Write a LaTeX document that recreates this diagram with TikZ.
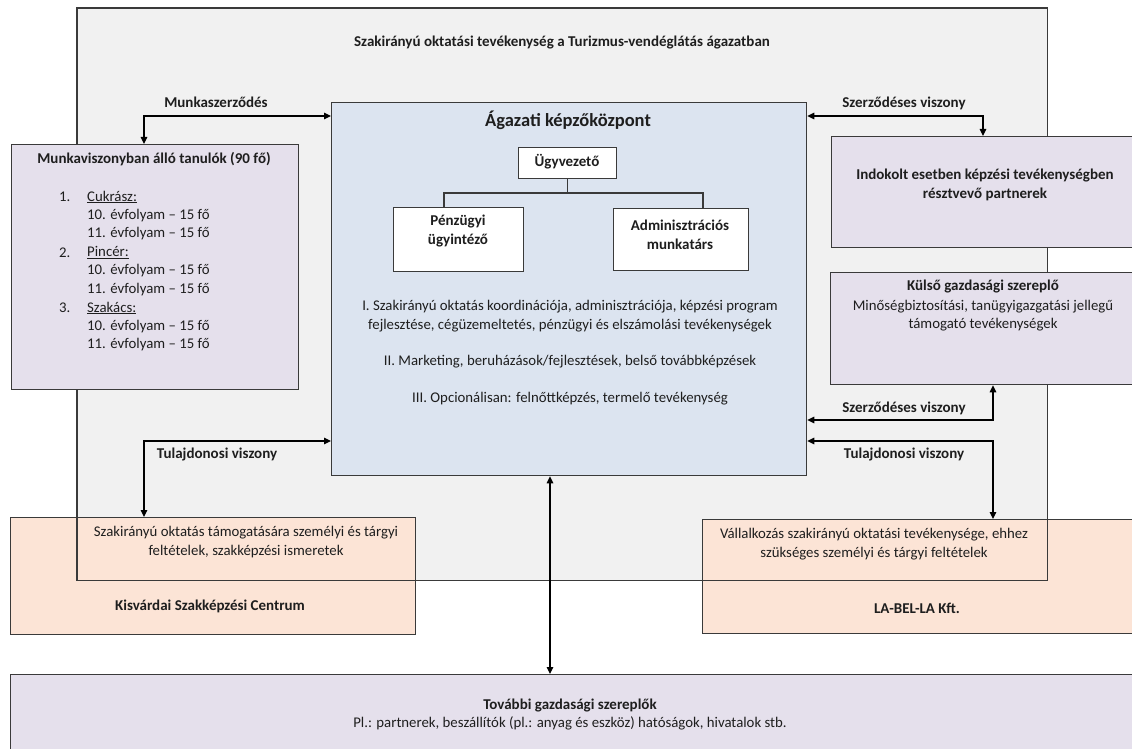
\documentclass[tikz,border=0pt]{standalone}
\usepackage{fontspec}
\setmainfont{Carlito}
\usetikzlibrary{arrows.meta}
\definecolor{grayfill}{HTML}{F1F1F1}
\definecolor{bluefill}{HTML}{DCE4F0}
\definecolor{purplefill}{HTML}{E5E0EC}
\definecolor{orangefill}{HTML}{FCE4D6}
\definecolor{edgecol}{HTML}{3A3A3A}
\definecolor{txtcol}{HTML}{1E1E1E}
\tikzset{
  box/.style={rectangle, draw=edgecol, line width=1.3pt, inner sep=0pt, anchor=north west},
  innerbox/.style={rectangle, draw=edgecol, line width=1.1pt, fill=white, inner sep=0pt, anchor=north west},
  txt/.style={font=\fontsize{14.8}{18.5}\selectfont, text=txtcol, align=center, inner sep=0pt},
  txtb/.style={txt, font=\fontsize{15}{18.5}\selectfont\bfseries},
  listtxt/.style={font=\fontsize{14.8}{18.5}\selectfont, text=txtcol, inner sep=0pt, anchor=west},
  conn/.style={draw=black, line width=1.2pt, arrows={Triangle[length=7pt,width=6.5pt]-Triangle[length=7pt,width=6.5pt]}},
  orgline/.style={draw=edgecol, line width=1.1pt},
}
\begin{document}
\begin{tikzpicture}[x=1pt,y=-1pt]
\clip (0,0) rectangle (1132,749);
\fill[white] (0,0) rectangle (1132,749);
% outer gray container (fill)
\node[rectangle, fill=grayfill, inner sep=0pt, anchor=north west, minimum width=970pt, minimum height=572pt] (outer) at (77,8) {};
% orange boxes
\node[box, fill=orangefill, minimum width=405pt, minimum height=117pt] (oL) at (10,517) {};
\node[box, fill=orangefill, minimum width=434pt, minimum height=114pt] (oR) at (702,519) {};
% outer gray border on top of orange
\draw[edgecol, line width=1.3pt] (outer.north west) rectangle (outer.south east);
% purple boxes
\node[box, fill=purplefill, minimum width=287pt, minimum height=245pt] (lp) at (11,144) {};
\node[box, fill=purplefill, minimum width=305pt, minimum height=111pt] (rp1) at (831,136) {};
\node[box, fill=purplefill, minimum width=306pt, minimum height=112pt] (rp2) at (830,272) {};
\node[box, fill=purplefill, minimum width=1126pt, minimum height=80pt] (bp) at (10,674) {};
% center box
\node[box, fill=bluefill, minimum width=475pt, minimum height=373pt] (cb) at (331,102) {};
% inner org boxes
\node[innerbox, minimum width=98pt, minimum height=31pt] (ug) at (518,147) {};
\node[innerbox, minimum width=130pt, minimum height=64pt] (pu) at (393,207) {};
\node[innerbox, minimum width=135pt, minimum height=62pt] (ad) at (613,208) {};
\coordinate (oj1) at (444,193);
\coordinate (oj2) at (703,193);
\draw[orgline] (ug.south) -- (ug.south |- oj1);
\draw[orgline] (oj1 |- pu.north) -- (oj1) -- (oj2) -- (oj2 |- ad.north);

% texts
\node[txtb] (title) at (562,43) {Szakirányú oktatási tevékenység a Turizmus-vendéglátás ágazatban};
\node[txtb, font=\fontsize{18.5}{22}\selectfont\bfseries] (cbt) at (568,120) {Ágazati képzőközpont};
\node[txtb] (ugt) at (567,162) {Ügyvezető};
\node[txtb] (put) at (458,231) {Pénzügyi\\ügyintéző};
\node[txtb] (adt) at (680,235) {Adminisztrációs\\munkatárs};
\node[txt] (c1) at (570,316) {I. Szakirányú oktatás koordinációja, adminisztrációja, képzési program\\fejlesztése, cégüzemeltetés, pénzügyi és elszámolási tevékenységek};
\node[txt] (c2) at (570,362) {II. Marketing, beruházások/fejlesztések, belső továbbképzések};
\node[txt] (c3) at (570,399) {III. Opcionálisan: felnőttképzés, termelő tevékenység};

\node[txtb] (lpt) at (154,159) {Munkaviszonyban álló tanulók (90 fő)};
\node[listtxt] (n1) at (59,197) {1.};
\node[listtxt] (l1) at (87,197) {\underline{Cukrász:}};
\node[listtxt] (l2) at (87,215.5) {10. évfolyam – 15 fő};
\node[listtxt] (l3) at (87,234) {11. évfolyam – 15 fő};
\node[listtxt] (n2) at (59,252.5) {2.};
\node[listtxt] (l4) at (87,252.5) {\underline{Pincér:}};
\node[listtxt] (l5) at (87,271) {10. évfolyam – 15 fő};
\node[listtxt] (l6) at (87,289.5) {11. évfolyam – 15 fő};
\node[listtxt] (n3) at (59,308) {3.};
\node[listtxt] (l7) at (87,308) {\underline{Szakács:}};
\node[listtxt] (l8) at (87,326.5) {10. évfolyam – 15 fő};
\node[listtxt] (l9) at (87,345) {11. évfolyam – 15 fő};

\node[txtb] (rp1t) at (985,185) {Indokolt esetben képzési tevékenységben\\résztvevő partnerek};
\node[txtb] (rp2a) at (983,287) {Külső gazdasági szereplő};
\node[txt] (rp2b) at (983,315.5) {Minőségbiztosítási, tanügyigazgatási jellegű\\támogató tevékenységek};

\node[txt] (oLt) at (246,542) {Szakirányú oktatás támogatására személyi és tárgyi\\feltételek, szakképzési ismeretek};
\node[txtb] (oLn) at (210,606) {Kisvárdai Szakképzési Centrum};
\node[txt] (oRt) at (874,544) {Vállalkozás szakirányú oktatási tevékenysége, ehhez\\szükséges személyi és tárgyi feltételek};
\node[txtb] (oRn) at (917,608) {LA-BEL-LA Kft.};

\node[txtb] (bpa) at (570,706) {További gazdasági szereplők};
\node[txt] (bpb) at (570,723) {Pl.: partnerek, beszállítók (pl.: anyag és eszköz) hatóságok, hivatalok stb.};

% connector labels
\node[txtb] (lab1) at (216,102) {Munkaszerződés};
\node[txtb] (lab2) at (904,103) {Szerződéses viszony};
\node[txtb] (lab3) at (904,408) {Szerződéses viszony};
\node[txtb] (lab4) at (904,455) {Tulajdonosi viszony};
\node[txtb] (lab5) at (217,455) {Tulajdonosi viszony};

% connectors
\coordinate (mk) at (144,116);
\draw[conn] (mk |- lp.north) -- (mk) -- (mk -| cb.west);
\coordinate (sz1) at (983,116);
\draw[conn] (sz1 -| cb.east) -- (sz1) -- (sz1 |- rp1.north);
\coordinate (sz2) at (993,420);
\draw[conn] (sz2 -| cb.east) -- (sz2) -- (sz2 |- rp2.south);
\coordinate (tr) at (993,441);
\draw[conn] (tr -| cb.east) -- (tr) -- (tr |- oR.north);
\coordinate (tl) at (144,441);
\draw[conn] (tl -| cb.west) -- (tl) -- (tl |- oL.north);
\coordinate (vc) at (550,0);
\draw[conn] (vc |- cb.south) -- (vc |- bp.north);
\end{tikzpicture}
\end{document}
